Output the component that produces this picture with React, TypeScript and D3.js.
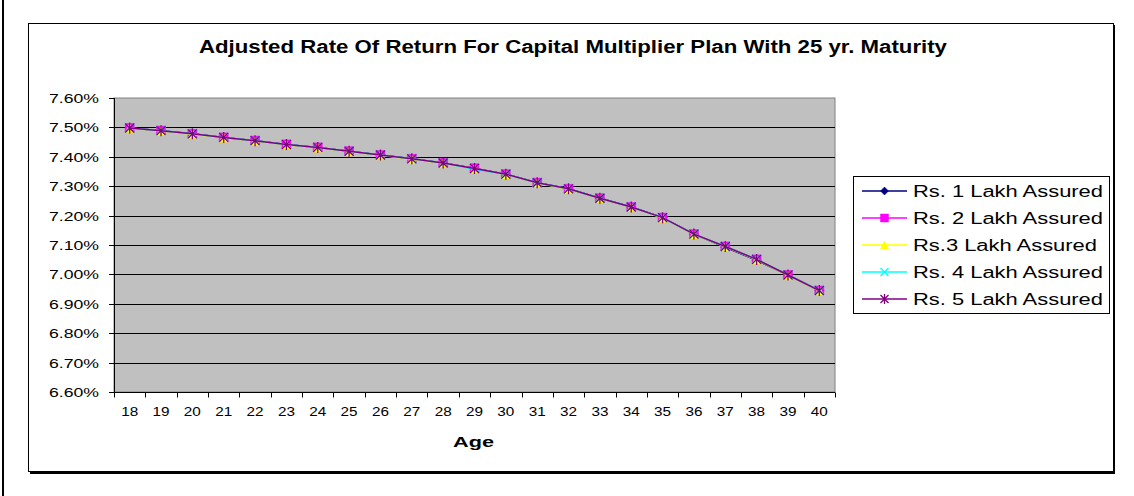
import React, { useEffect, useRef } from "react";
import * as d3 from "d3";

const ages = [18,19,20,21,22,23,24,25,26,27,28,29,30,31,32,33,34,35,36,37,38,39,40];
const s1 = [7.498,7.489,7.478,7.466,7.455,7.442,7.432,7.419,7.406,7.393,7.379,7.360,7.341,7.312,7.291,7.259,7.229,7.193,7.137,7.092,7.048,6.998,6.945];
const s2 = [7.498,7.489,7.478,7.466,7.455,7.442,7.432,7.419,7.406,7.393,7.379,7.361,7.341,7.312,7.291,7.259,7.229,7.193,7.137,7.095,7.051,6.998,6.945];
const s3 = [7.497,7.488,7.477,7.465,7.454,7.441,7.431,7.418,7.405,7.392,7.378,7.359,7.340,7.311,7.290,7.258,7.228,7.192,7.136,7.094,7.050,6.997,6.944];
const s4 = [7.498,7.489,7.478,7.466,7.455,7.442,7.432,7.419,7.406,7.393,7.379,7.358,7.341,7.312,7.291,7.259,7.229,7.193,7.137,7.095,7.051,6.998,6.945];
const s5 = [7.498,7.489,7.478,7.466,7.455,7.442,7.432,7.419,7.406,7.393,7.379,7.360,7.341,7.312,7.291,7.259,7.229,7.193,7.137,7.095,7.051,6.998,6.945];
const seriesNames = ["Rs. 1 Lakh Assured","Rs. 2 Lakh Assured","Rs.3 Lakh Assured","Rs. 4 Lakh Assured","Rs. 5 Lakh Assured"];
const seriesColors = ["#000080","#FF00FF","#FFFF00","#00FFFF","#800080"];
const seriesMarkers = ["diamond","square","triangle","x","star"];
const yTicks = [6.6,6.7,6.8,6.9,7.0,7.1,7.2,7.3,7.4,7.5,7.6];
const title = "Adjusted Rate Of Return For Capital Multiplier Plan With 25 yr. Maturity";
const xTitle = "Age";

const FONT = "'Liberation Sans', Arial, sans-serif";

function markerPath(kind: string, cx: number, cy: number, r: number): { d: string; fill: boolean } {
  switch (kind) {
    case "diamond":
      return { d: `M${cx},${cy - r}L${cx + r},${cy}L${cx},${cy + r}L${cx - r},${cy}Z`, fill: true };
    case "square":
      return { d: `M${cx - r},${cy - r}h${2 * r}v${2 * r}h${-2 * r}Z`, fill: true };
    case "triangle":
      return { d: `M${cx},${cy - r}L${cx + r},${cy + r}L${cx - r},${cy + r}Z`, fill: true };
    case "x":
      return { d: `M${cx - r},${cy - r}L${cx + r},${cy + r}M${cx - r},${cy + r}L${cx + r},${cy - r}`, fill: false };
    default:
      return { d: `M${cx - r},${cy - r}L${cx + r},${cy + r}M${cx - r},${cy + r}L${cx + r},${cy - r}M${cx},${cy - r - 1}L${cx},${cy + r + 1}`, fill: false };
  }
}

function stretch(sel: d3.Selection<SVGTextElement, unknown, null, undefined>, width: number) {
  sel.attr("textLength", width).attr("lengthAdjust", "spacingAndGlyphs");
}

export default function App() {
  const ref = useRef<SVGSVGElement>(null);
  useEffect(() => {
    const svg = d3.select(ref.current);
    svg.selectAll("*").remove();
    const W = 1134, H = 496;
    const pl = 114, pr = 835, pt = 98, pb = 392;
    const x = d3.scaleBand<number>().domain(ages).range([pl, pr]).paddingInner(0).paddingOuter(0);
    const y = d3.scaleLinear().domain([6.6, 7.6]).range([pb, pt]);
    const cx = (a: number) => (x(a) as number) + x.bandwidth() / 2;

    svg.append("rect").attr("width", W).attr("height", H).attr("fill", "#fff");
    svg.append("rect").attr("x", 2).attr("y", 0).attr("width", 2).attr("height", H).attr("fill", "#000");
    svg.append("rect").attr("x", 30).attr("y", 25).attr("width", 1085).attr("height", 449).attr("fill", "#000");
    svg.append("rect").attr("x", 28.5).attr("y", 23.5).attr("width", 1085).attr("height", 448).attr("fill", "#fff").attr("stroke", "#000").attr("stroke-width", 1);

    const t = svg.append("text").attr("x", 199).attr("y", 52.5)
      .attr("font-family", FONT).attr("font-weight", "bold").attr("font-size", 17.5).text(title);
    stretch(t as any, 748);

    svg.append("rect").attr("x", pl).attr("y", pt).attr("width", pr - pl).attr("height", pb - pt)
      .attr("fill", "#C0C0C0").attr("stroke", "#808080").attr("stroke-width", 1);
    const g = svg.append("g");
    yTicks.slice(1, -1).forEach(tv => {
      g.append("line").attr("x1", pl).attr("x2", pr).attr("y1", Math.round(y(tv)) + 0.5).attr("y2", Math.round(y(tv)) + 0.5)
        .attr("stroke", "#000").attr("stroke-width", 1);
    });

    // y axis
    const ya = svg.append("g");
    ya.append("line").attr("x1", pl + 0.5).attr("x2", pl + 0.5).attr("y1", pt).attr("y2", pb + 0.5).attr("stroke", "#000");
    yTicks.forEach(tv => {
      const yy = Math.round(y(tv)) + 0.5;
      ya.append("line").attr("x1", pl - 5).attr("x2", pl).attr("y1", yy).attr("y2", yy).attr("stroke", "#000");
      const lab = ya.append("text").attr("x", 49).attr("y", yy + 4)
        .attr("font-family", FONT).attr("font-size", 12).text(tv.toFixed(2) + "%");
      stretch(lab as any, 50);
    });

    // x axis
    const xa = svg.append("g").attr("transform", `translate(0,${pb + 0.5})`);
    xa.append("line").attr("x1", pl).attr("x2", pr).attr("stroke", "#000");
    const bounds = ages.map(a => x(a) as number).concat([pr]);
    bounds.forEach(b => {
      xa.append("line").attr("x1", Math.round(b) + 0.5).attr("x2", Math.round(b) + 0.5).attr("y1", 0).attr("y2", 5).attr("stroke", "#000");
    });
    ages.forEach(a => {
      const lab = xa.append("text").attr("x", cx(a) - 8.5).attr("y", 23)
        .attr("font-family", FONT).attr("font-size", 12.5).text(String(a));
      stretch(lab as any, 17);
    });
    const at = svg.append("text").attr("x", 453).attr("y", 446.5)
      .attr("font-family", FONT).attr("font-weight", "bold").attr("font-size", 15).text(xTitle);
    stretch(at as any, 41);

    // series
    const allSeries = [s1, s2, s3, s4, s5];
    const line = d3.line<number>().x((_, i) => cx(ages[i])).y(v => y(v));
    allSeries.forEach((s, si) => {
      const col = seriesColors[si];
      svg.append("path").attr("d", line(s) as string).attr("fill", "none").attr("stroke", col).attr("stroke-width", 1.5);
      s.forEach((v, i) => {
        const m = markerPath(seriesMarkers[si], cx(ages[i]), y(v), 4.5);
        svg.append("path").attr("d", m.d).attr("fill", m.fill ? col : "none").attr("stroke", col).attr("stroke-width", m.fill ? 0.5 : 1.3);
      });
    });

    // legend
    const lx = 853.5, ly = 176.5, lw = 256, lh = 137;
    svg.append("rect").attr("x", lx).attr("y", ly).attr("width", lw).attr("height", lh).attr("fill", "#fff").attr("stroke", "#000");
    const widths = [190, 190, 184, 190, 190];
    seriesNames.forEach((n, i) => {
      const yy = 191 + i * 27;
      const col = seriesColors[i];
      svg.append("line").attr("x1", 862).attr("x2", 907).attr("y1", yy).attr("y2", yy).attr("stroke", col).attr("stroke-width", 1.5);
      const m = markerPath(seriesMarkers[i], 884.5, yy, 4);
      svg.append("path").attr("d", m.d).attr("fill", m.fill ? col : "none").attr("stroke", col).attr("stroke-width", m.fill ? 0.5 : 1.3);
      const lab = svg.append("text").attr("x", 913).attr("y", yy + 5.5).attr("font-family", FONT).attr("font-size", 16).text(n);
      stretch(lab as any, widths[i]);
    });
  }, []);
  return (
    <svg ref={ref} width={1134} height={496} style={{ position: "absolute", left: 0, top: 0, display: "block" }} />
  );
}
